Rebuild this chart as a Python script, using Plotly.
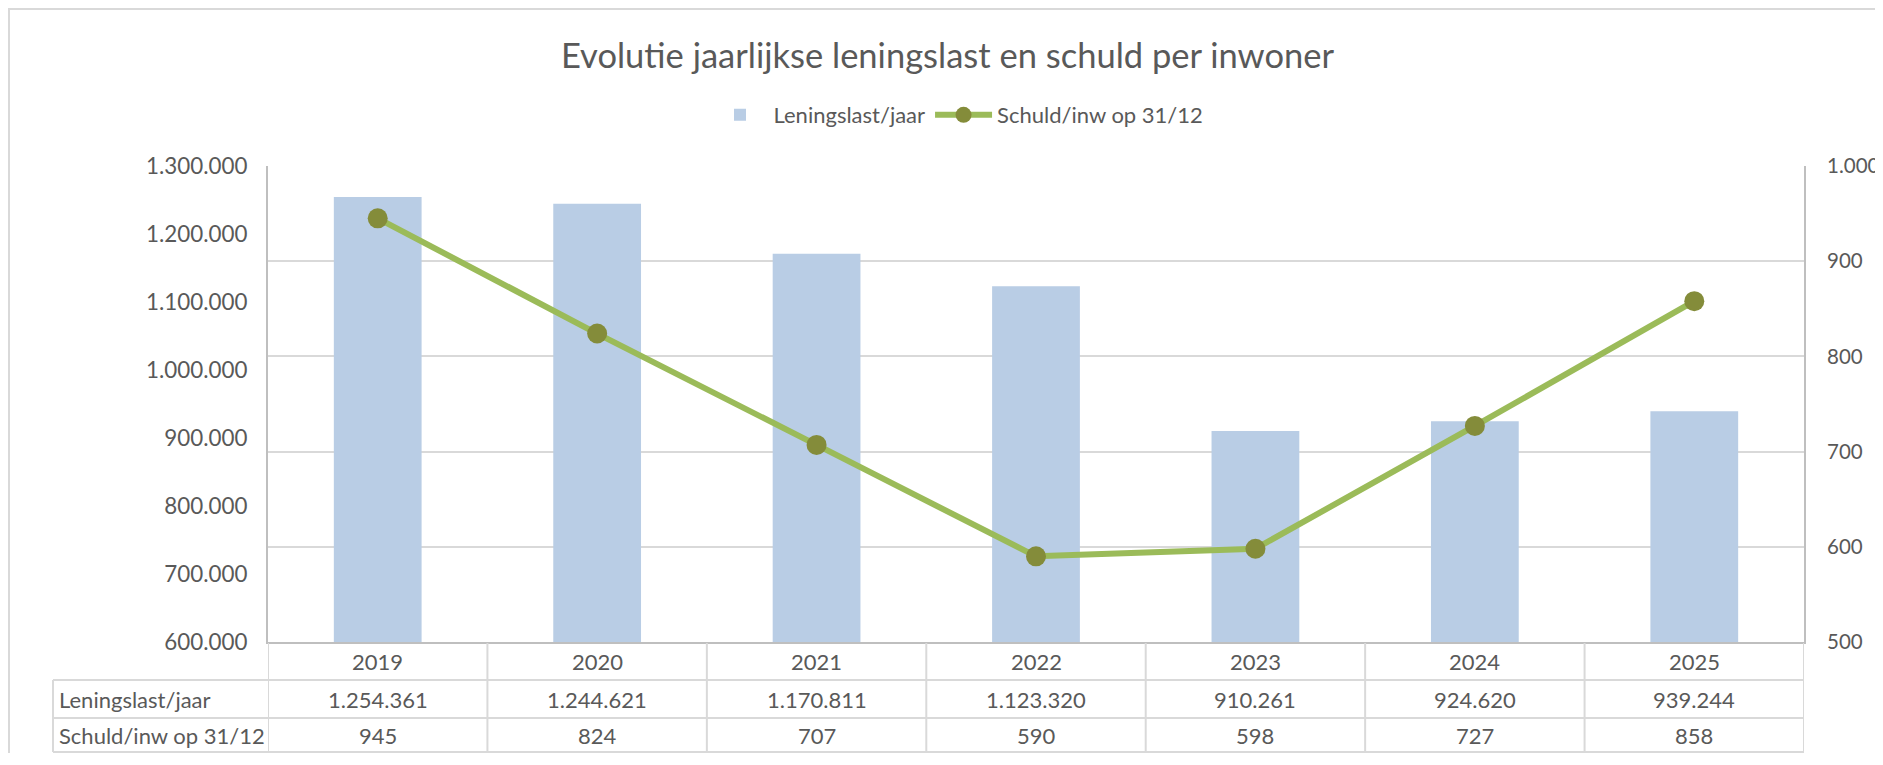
import plotly.graph_objects as go

years = ["2019", "2020", "2021", "2022", "2023", "2024", "2025"]
leningslast = [1254361, 1244621, 1170811, 1123320, 910261, 924620, 939244]
schuld = [945, 824, 707, 590, 598, 727, 858]
series_names = ["Leningslast/jaar", "Schuld/inw op 31/12"]
title_text = "Evolutie jaarlijkse leningslast en schuld per inwoner"

# the page places the figure with an 8px body margin; keep the page free of scrollbars
OFF = 8
W, H = 1883 - OFF, 765 - 2 * OFF - 4
L, R, T, B = 268 - OFF, 1804 - OFF, 166 - OFF, 642 - OFF
PW, PH = R - L, B - T

def px(x):
    return (x - OFF - L) / PW

def py(y):
    return (B - (y - OFF)) / PH

TXT = "#595959"
GRID = "#D9D9D9"
AXIS = "#BFBFBF"
FONT = "Lato"
FS = 22

def fmt(v):
    return f"{v:,}".replace(",", ".")

fig = go.Figure()
fig.add_trace(go.Bar(x=years, y=leningslast, name=series_names[0],
                     marker=dict(color="#B9CDE5", line=dict(width=0)), yaxis="y"))
fig.add_trace(go.Scatter(x=years, y=schuld, name=series_names[1], mode="lines+markers",
                         line=dict(color="#9BBB59", width=6),
                         marker=dict(color="#848C3A", size=20), yaxis="y2"))

shapes = []
# outer chart border (figure edge)
shapes.append(dict(type="rect", xref="paper", yref="paper", x0=px(OFF + 1), x1=px(1883 + 20),
                   y0=py(765 + 20), y1=py(OFF + 1), line=dict(color=GRID, width=2), layer="below"))
# table lines (page pixel positions)
row_lines = [680, 718, 752]
for yy in row_lines:
    shapes.append(dict(type="line", xref="paper", yref="paper", x0=px(53), x1=1,
                       y0=py(yy), y1=py(yy), line=dict(color=GRID, width=2)))
n = len(years)
for i in range(n + 1):
    shapes.append(dict(type="line", xref="x", yref="paper", x0=i - 0.5, x1=i - 0.5,
                       y0=py(643), y1=py(752), line=dict(color=GRID, width=2)))
shapes.append(dict(type="line", xref="paper", yref="paper", x0=px(53), x1=px(53),
                   y0=py(680), y1=py(752), line=dict(color=GRID, width=2)))

ann = []
row_c = [661.5, 699, 735.5]
tf = dict(size=FS, color=TXT, family=FONT)
for i, yv in enumerate(years):
    ann.append(dict(x=i, xref="x", y=py(row_c[0]), yref="paper", text=yv, showarrow=False,
                    font=tf, xanchor="center", yanchor="middle"))
    ann.append(dict(x=i, xref="x", y=py(row_c[1]), yref="paper", text=fmt(leningslast[i]),
                    showarrow=False, font=tf, xanchor="center", yanchor="middle"))
    ann.append(dict(x=i, xref="x", y=py(row_c[2]), yref="paper", text=fmt(schuld[i]),
                    showarrow=False, font=tf, xanchor="center", yanchor="middle"))
for k, nm in enumerate(series_names):
    ann.append(dict(x=px(57), xref="paper", y=py(row_c[k + 1]), yref="paper", text=nm,
                    showarrow=False, font=tf, xanchor="left", yanchor="middle"))

fig.update_layout(
    width=W, height=H,
    margin=dict(l=L, r=W - R, t=T, b=H - B, pad=0, autoexpand=False),
    paper_bgcolor="white", plot_bgcolor="white",
    separators=",.",
    font=dict(family=FONT, color=TXT, size=FS),
    title=dict(text=title_text, x=(947.5 - OFF) / W, xref="container", xanchor="center",
               y=1 - 48 / H, yref="container", yanchor="middle",
               font=dict(family=FONT, size=34.5, color=TXT)),
    showlegend=True,
    legend=dict(orientation="h", x=949.5 / W, xref="container", xanchor="center",
                y=1 - 107 / H, yref="container", yanchor="middle",
                font=dict(size=FS, color=TXT, family=FONT), traceorder="normal",
                itemwidth=57),
    bargap=0.6,
    xaxis=dict(type="category", range=[-0.5, n - 0.5], showticklabels=False, showgrid=False,
               showline=True, linecolor=AXIS, linewidth=2, ticks="", zeroline=False,
               automargin=False),
    yaxis=dict(range=[600000, 1300000], dtick=100000, tickformat=",d", showgrid=False,
               showline=True, linecolor=AXIS, linewidth=2,
               ticks="outside", ticklen=14, tickcolor="rgba(0,0,0,0)",
               tickfont=dict(size=22.4, color=TXT, family=FONT), zeroline=False,
               automargin=False),
    yaxis2=dict(range=[500, 1000], dtick=100, tickformat=",d", overlaying="y", side="right",
                showgrid=True, gridcolor=GRID, gridwidth=2,
                showline=True, linecolor=AXIS, linewidth=2,
                ticks="outside", ticklen=17, tickcolor="rgba(0,0,0,0)",
                tickfont=dict(size=20.5, color=TXT, family=FONT), zeroline=False,
                automargin=False),
    shapes=shapes, annotations=ann,
)

fig.write_html("out.html")
